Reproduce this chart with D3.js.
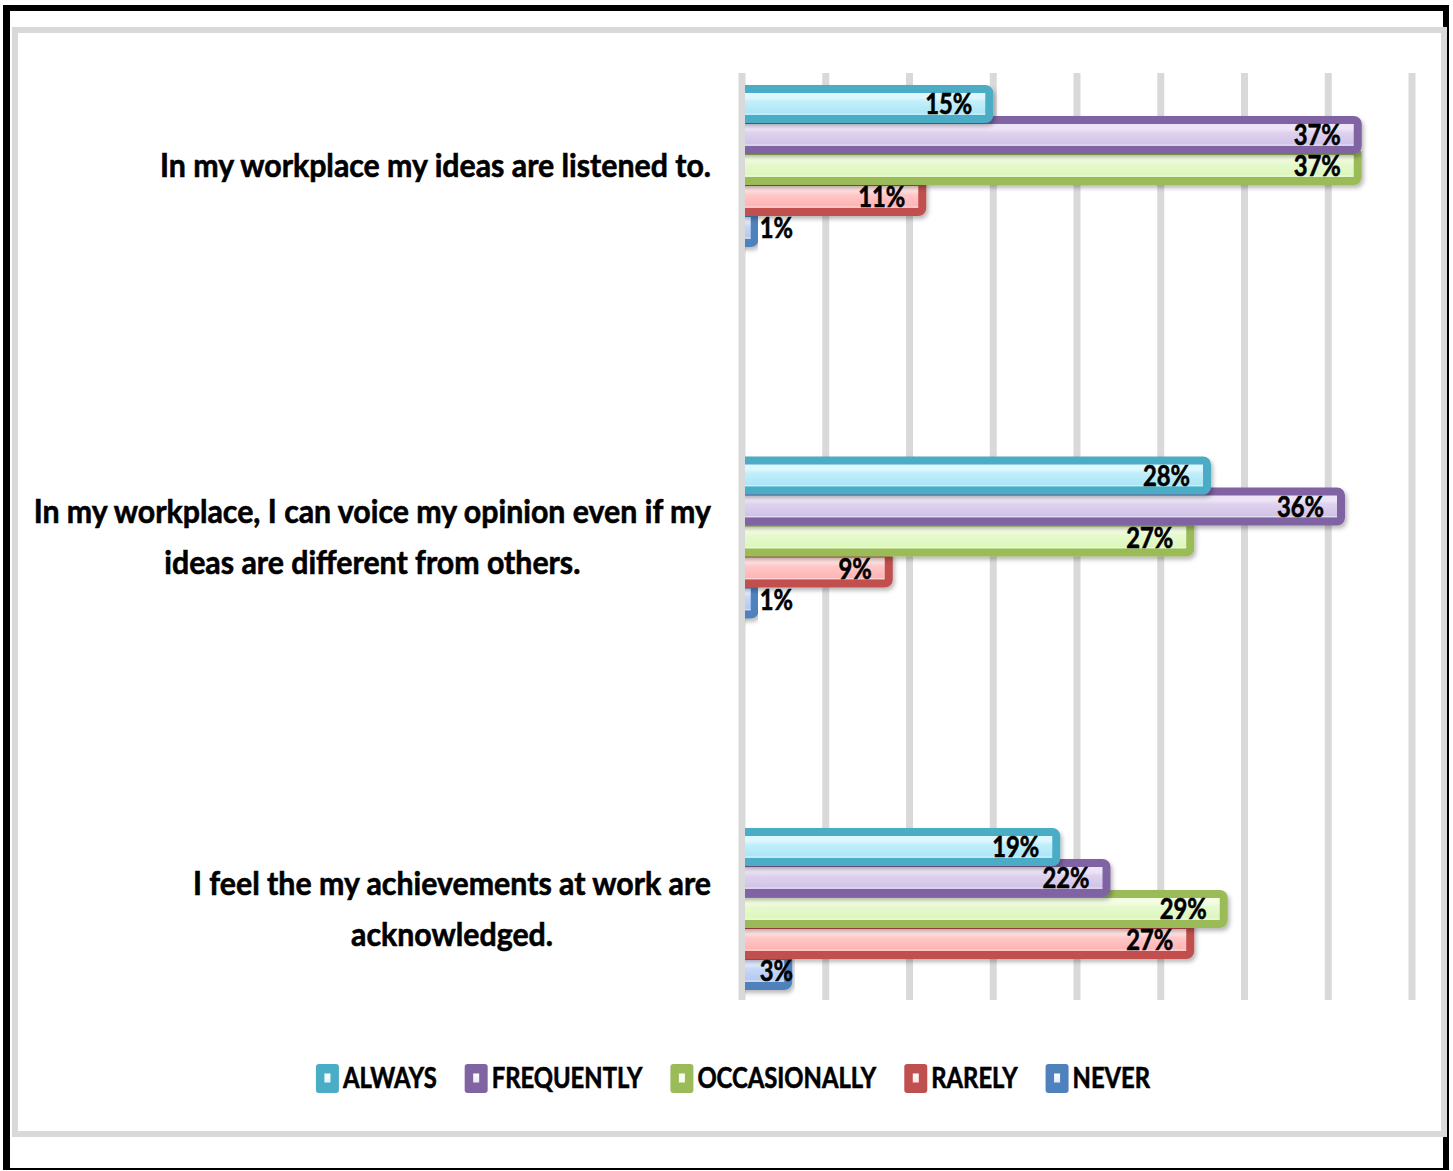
<!DOCTYPE html>
<html>
<head>
<meta charset="utf-8">
<script src="https://cdn.jsdelivr.net/npm/d3@7"></script>
<style>
  body { margin: 0; background: #ffffff; }
  text { font-family: Lato, "Open Sans", "DejaVu Sans", sans-serif; font-weight: 700; fill: #000;
         stroke: #000; stroke-width: 0.6px; }
</style>
</head>
<body>
<svg id="chart" width="1453" height="1171"></svg>
<script>
// Survey statements (multi-line labels) and response shares in percent
const categories = [
  ["In my workplace my ideas are listened to."],
  ["In my workplace, I can voice my opinion even if my", "ideas are different from others."],
  ["I feel the my achievements at work are", "acknowledged."]
];
const seriesNames = ["ALWAYS", "FREQUENTLY", "OCCASIONALLY", "RARELY", "NEVER"];
const always       = [15, 28, 19];
const frequently   = [37, 36, 22];
const occasionally = [37, 27, 29];
const rarely       = [11, 9, 27];
const never        = [1, 1, 3];
const gridTicks    = [0, 5, 10, 15, 20, 25, 30, 35, 40];

const seriesValues = [always, frequently, occasionally, rarely, never];

// Office-style palette: border colour plus light/dark fill stops
const palette = {
  ALWAYS:       { stroke: "#4bacc6", light: "#ddf7fe", dark: "#ace6f7" },
  FREQUENTLY:   { stroke: "#8064a2", light: "#ede5f7", dark: "#d1c3e7" },
  OCCASIONALLY: { stroke: "#9bbb59", light: "#f3fde2", dark: "#ddf6bd" },
  RARELY:       { stroke: "#c0504d", light: "#ffe0e0", dark: "#ffb4b4" },
  NEVER:        { stroke: "#4f81bd", light: "#dfeaff", dark: "#b4caf2" }
};

const svg = d3.select("#chart");
const defs = svg.append("defs");

// Frame: black outer edge, white page, light grey chart-area border
svg.append("rect").attr("x", 3).attr("y", 5).attr("width", 1446).attr("height", 1165).attr("fill", "#000");
svg.append("rect").attr("x", 10).attr("y", 11).attr("width", 1433).attr("height", 1157).attr("fill", "#fff");
svg.append("rect").attr("x", 15).attr("y", 30).attr("width", 1429).attr("height", 1104)
  .attr("fill", "#fff").attr("stroke", "#d9d9d9").attr("stroke-width", 6);

// Scales
const x = d3.scaleLinear().domain([0, 40]).range([742, 1412]);
const yCat = d3.scalePoint().domain(d3.range(categories.length)).range([166, 909]);
const ySer = d3.scalePoint().domain(seriesNames).range([-62, 62]);
const plotTop = 73, plotBottom = 1000;

// Vertical gridlines
svg.append("g").selectAll("line").data(gridTicks).join("line")
  .attr("x1", d => x(d)).attr("x2", d => x(d))
  .attr("y1", plotTop).attr("y2", plotBottom)
  .attr("stroke", "#d9d9d9").attr("stroke-width", 7);

// Gradients and effects
seriesNames.forEach((s, i) => {
  const c = palette[s];
  const g = defs.append("linearGradient").attr("id", "grad" + i)
    .attr("x1", 0).attr("y1", 0).attr("x2", 0).attr("y2", 1);
  [[0, c.light], [0.14, c.light], [0.3, c.light], [0.42, d3.interpolateRgb(c.light, c.dark)(0.55)],
   [0.8, c.dark], [0.83, d3.interpolateRgb(c.dark, "#ffffff")(0.45)], [0.87, c.dark], [1, c.dark]]
    .forEach(([o, col]) => g.append("stop").attr("offset", o).attr("stop-color", col));

  const lg = defs.append("linearGradient").attr("id", "lgrad" + i)
    .attr("x1", 0).attr("y1", 0).attr("x2", 0).attr("y2", 1);
  lg.append("stop").attr("offset", 0).attr("stop-color", "#ffffff");
  lg.append("stop").attr("offset", 1).attr("stop-color", c.light);
});

const shadow = defs.append("filter").attr("id", "shadow")
  .attr("x", "-5%").attr("y", "-30%").attr("width", "115%").attr("height", "170%");
shadow.append("feDropShadow").attr("dx", 2).attr("dy", 3).attr("stdDeviation", 2)
  .attr("flood-color", "#000").attr("flood-opacity", 0.28);

defs.append("clipPath").attr("id", "barClip")
  .append("rect").attr("x", x(0) + 3).attr("y", 0).attr("width", 1453).attr("height", 1171);

// Bars: later series sit underneath earlier ones
const strokeW = 8, barH = 30;
const barLayer = svg.append("g").attr("clip-path", "url(#barClip)");
categories.forEach((cat, ci) => {
  for (let si = seriesNames.length - 1; si >= 0; si--) {
    const s = seriesNames[si];
    const v = seriesValues[si][ci];
    const cy = yCat(ci) + ySer(s);
    barLayer.append("rect")
      .attr("x", x(0) - 12)
      .attr("y", cy - barH / 2)
      .attr("width", Math.max(0, x(v) - strokeW / 2 - (x(0) - 12)))
      .attr("height", barH)
      .attr("rx", 4).attr("ry", 4)
      .attr("fill", "url(#grad" + si + ")")
      .attr("stroke", palette[s].stroke)
      .attr("stroke-width", strokeW)
      .attr("filter", "url(#shadow)");
  }
});

// Horizontally condensed text helper
function condensedText(parent, tx, ty, str, size, sx, anchor) {
  const g = parent.append("g").attr("transform", `translate(${tx},${ty}) scale(${sx},1)`);
  const t = g.append("text").attr("font-size", size).attr("text-anchor", anchor).text(str);
  return { g, t, width: t.node().getComputedTextLength() * sx };
}

// Value labels at the inside end of each bar
const labelLayer = svg.append("g");
categories.forEach((cat, ci) => {
  seriesNames.forEach((s, si) => {
    const v = seriesValues[si][ci];
    const cy = yCat(ci) + ySer(s);
    const lx = Math.max(x(v) - 21, x(0) + 51);
    condensedText(labelLayer, lx, cy + 10, v + "%", 28, 0.85, "end");
  });
});

// Category labels, right-aligned block with centred lines
const catLayer = svg.append("g");
const catRight = 711, lineGap = 51, catSx = 0.947;
categories.forEach((lines, ci) => {
  const cy = yCat(ci);
  const items = lines.map((ln, li) => {
    const baseY = cy + 11 + (li - (lines.length - 1) / 2) * lineGap;
    return condensedText(catLayer, 0, baseY, ln, 32, catSx, "middle");
  });
  const maxW = d3.max(items, d => d.width);
  const cx = catRight - maxW / 2;
  items.forEach((it, li) => {
    const baseY = cy + 11 + (li - (lines.length - 1) / 2) * lineGap;
    it.g.attr("transform", `translate(${cx},${baseY}) scale(${catSx},1)`);
  });
});

// Legend
const legend = svg.append("g");
const swW = 23, swH = 29, legY = 1064, legBase = 1088, legSx = 0.85, itemGap = 28, txtGap = 4;
const legItems = seriesNames.map((s, si) => {
  const g = legend.append("g");
  g.append("rect").attr("x", 0).attr("y", legY).attr("width", swW).attr("height", swH)
    .attr("rx", 3).attr("fill", palette[s].stroke);
  g.append("rect").attr("x", swW / 2 - 3).attr("y", legY + swH / 2 - 5).attr("width", 6).attr("height", 9)
    .attr("fill", "url(#lgrad" + si + ")");
  const txt = condensedText(g, swW + txtGap, legBase, s, 28, legSx, "start");
  return { g, width: swW + txtGap + txt.width };
});
const totalW = d3.sum(legItems, d => d.width) + itemGap * (legItems.length - 1);
let cursor = 733 - totalW / 2;
legItems.forEach(it => {
  it.g.attr("transform", `translate(${cursor},0)`);
  cursor += it.width + itemGap;
});
</script>
</body>
</html>
